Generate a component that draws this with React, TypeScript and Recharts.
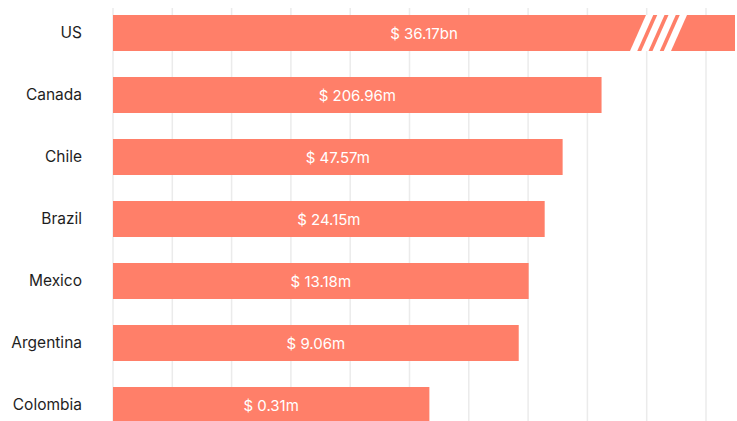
import { BarChart, Bar, XAxis, YAxis, CartesianGrid } from "recharts";

const countries = ["US", "Canada", "Chile", "Brazil", "Mexico", "Argentina", "Colombia"];
// amounts in millions of USD
const amounts = [36170, 206.96, 47.57, 24.15, 13.18, 9.06, 0.31];
const amountLabels = ["$ 36.17bn", "$ 206.96m", "$ 47.57m", "$ 24.15m", "$ 13.18m", "$ 9.06m", "$ 0.31m"];

const data = countries.map((country, i) => ({
  country,
  amount: amounts[i],
  label: amountLabels[i],
}));

const BAR_COLOR = "#ff7f69";
const FONT = "Inter, 'Noto Sans', sans-serif";

function BrokenBar(props: any) {
  const { x, y, width, height, background, payload } = props;
  const right = background ? background.x + background.width : 735;
  const overflow = x + width > right + 0.5;
  const w = Math.min(width, right - x);
  const stripes = [];
  if (overflow) {
    const start = x + w - 105;
    const slant = 16;
    for (let i = 0; i < 4; i++) {
      const x0 = start + i * 11.25;
      const x1 = x0 + 7.25;
      stripes.push(
        <polygon
          key={i}
          points={`${x0},${y + height} ${x1},${y + height} ${x1 + slant},${y} ${x0 + slant},${y}`}
          fill="#fff"
        />
      );
    }
  }
  return (
    <g>
      <rect x={x} y={y} width={w} height={height} fill={BAR_COLOR} />
      {stripes}
      <text
        x={x + w / 2}
        y={y + height / 2}
        textAnchor="middle"
        dominantBaseline="central"
        fill="#fff"
        fontSize={15}
        fontFamily={FONT}
      >
        {payload.label}
      </text>
    </g>
  );
}

export default function App() {
  return (
    <div style={{ position: "absolute", left: 0, top: 0, width: 737, height: 421, overflow: "hidden", background: "#fff" }}>
      <BarChart
        width={737}
        height={440}
        data={data}
        layout="vertical"
        margin={{ top: 2, right: 2, bottom: 4, left: 0 }}
      >
        <CartesianGrid
          horizontal={false}
          stroke="#ebebeb"
          strokeWidth={1.5}
          y={8}
          height={430}
          verticalCoordinatesGenerator={({ offset }: any) =>
            Array.from({ length: 11 }, (_, i) => offset.left + i * 59.3)
          }
        />
        <XAxis type="number" scale="log" domain={[2e-6, 3.2e4]} allowDataOverflow hide />
        <YAxis
          type="category"
          dataKey="country"
          width={113}
          axisLine={false}
          tickLine={false}
          tickSize={0}
          tickMargin={31}
          tick={{ fontSize: 15.5, fill: "#1e1e1e", fontFamily: FONT, dy: -1 }}
        />
        <Bar dataKey="amount" barSize={36} shape={BrokenBar} isAnimationActive={false} />
      </BarChart>
    </div>
  );
}
